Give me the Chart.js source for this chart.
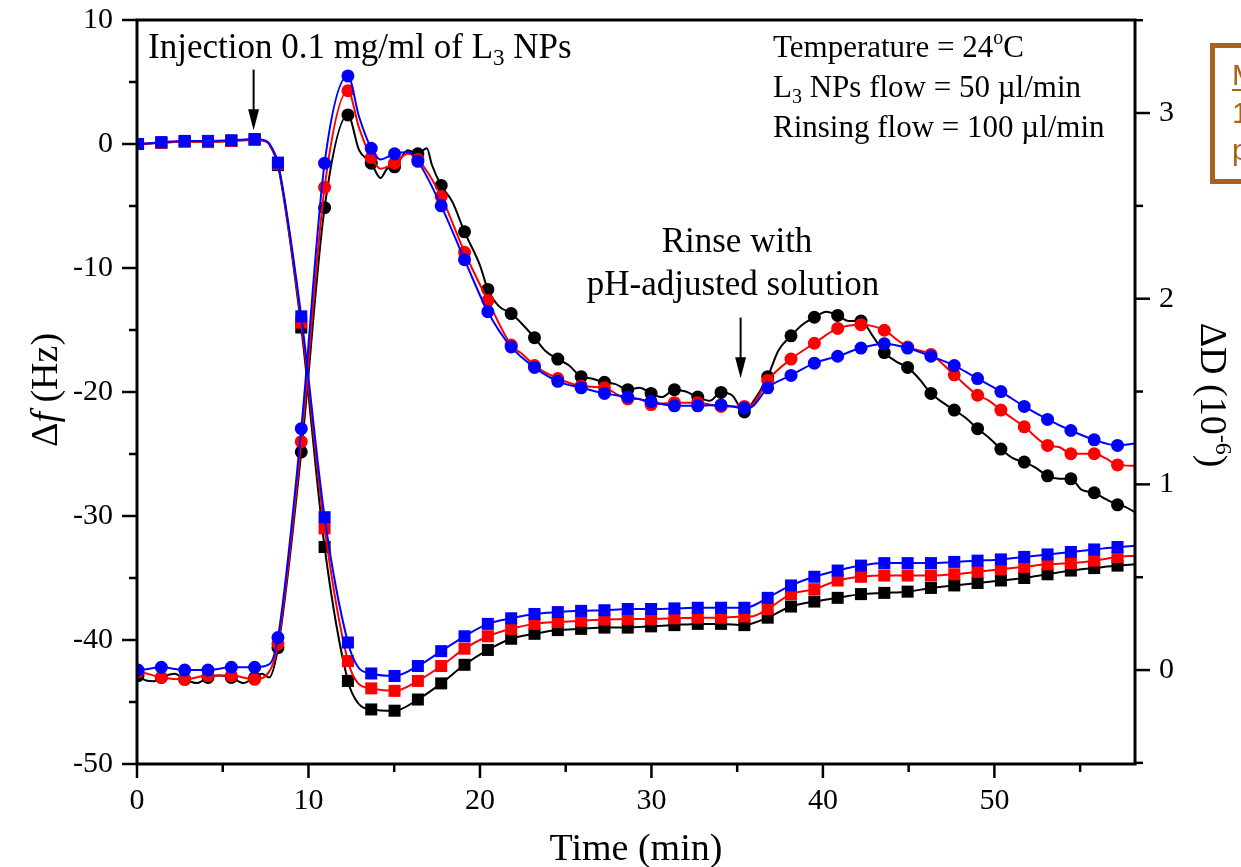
<!DOCTYPE html>
<html>
<head>
<meta charset="utf-8">
<script src="https://cdn.jsdelivr.net/npm/chart.js@4"></script>
<style>
  html, body { margin: 0; padding: 0; background: #fff; }
  #wrap { width: 1241px; height: 867px; position: relative; }
</style>
</head>
<body>
<div id="wrap"><canvas id="qcmChart"></canvas></div>
<script>
// times (min) where the symbols sit
const markerTimes = [0.06, 1.42, 2.78, 4.14, 5.50, 6.86, 8.22, 9.58, 10.94, 12.30, 13.66, 15.02, 16.38, 17.74,
  19.10, 20.46, 21.82, 23.18, 24.54, 25.90, 27.26, 28.62, 29.98, 31.34, 32.70, 34.06, 35.42, 36.78, 38.14,
  39.50, 40.86, 42.22, 43.58, 44.94, 46.30, 47.66, 49.02, 50.38, 51.74, 53.10, 54.46, 55.82, 57.18];

// frequency shift (Hz), squares, left axis
const freqBlue = [0.0, 0.15, 0.25, 0.25, 0.3, 0.4, -1.5, -13.9, -30.1, -40.2, -42.7, -42.9, -42.1, -40.9, -39.7,
  -38.7, -38.25, -37.9, -37.75, -37.65, -37.6, -37.5, -37.5, -37.45, -37.4, -37.4, -37.4, -36.6, -35.6, -34.9,
  -34.4, -34.0, -33.8, -33.8, -33.8, -33.7, -33.6, -33.5, -33.3, -33.1, -32.9, -32.7, -32.5];
const freqRed = [0.0, 0.1, 0.2, 0.15, 0.25, 0.35, -1.6, -14.4, -31.0, -41.7, -43.9, -44.1, -43.3, -42.1, -40.7,
  -39.7, -39.1, -38.7, -38.55, -38.45, -38.35, -38.3, -38.3, -38.25, -38.2, -38.2, -38.1, -37.5, -36.3, -35.9,
  -35.2, -34.9, -34.8, -34.8, -34.8, -34.7, -34.5, -34.3, -34.1, -33.9, -33.8, -33.6, -33.3];
const freqBlack = [0.0, 0.1, 0.2, 0.2, 0.25, 0.35, -1.7, -14.8, -32.5, -43.3, -45.6, -45.7, -44.8, -43.5, -42.0,
  -40.8, -39.9, -39.5, -39.2, -39.1, -39.0, -39.0, -38.9, -38.8, -38.7, -38.7, -38.8, -38.2, -37.3, -36.9,
  -36.6, -36.3, -36.2, -36.1, -35.8, -35.6, -35.4, -35.2, -35.0, -34.7, -34.4, -34.2, -34.0];

// dissipation shift (1e-6), circles, right axis
const dissBlue = [0.0, 0.015, 0.0, 0.0, 0.015, 0.015, 0.175, 1.30, 2.73, 3.20, 2.81, 2.78, 2.74, 2.50, 2.21,
  1.93, 1.74, 1.63, 1.555, 1.52, 1.49, 1.47, 1.446, 1.423, 1.423, 1.428, 1.41, 1.52, 1.587, 1.653, 1.69,
  1.734, 1.757, 1.734, 1.69, 1.64, 1.57, 1.50, 1.42, 1.35, 1.29, 1.24, 1.21];
const dissRed = [-0.01, -0.04, -0.05, -0.03, -0.03, -0.05, 0.14, 1.23, 2.60, 3.12, 2.76, 2.73, 2.75, 2.55, 2.25,
  1.99, 1.75, 1.64, 1.57, 1.53, 1.52, 1.46, 1.43, 1.44, 1.44, 1.42, 1.42, 1.56, 1.675, 1.76, 1.84,
  1.86, 1.83, 1.74, 1.70, 1.59, 1.48, 1.40, 1.31, 1.21, 1.165, 1.165, 1.105];
const dissBlack = [-0.03, -0.04, -0.05, -0.04, -0.04, -0.04, 0.12, 1.175, 2.49, 2.99, 2.73, 2.71, 2.78, 2.61, 2.36,
  2.05, 1.92, 1.79, 1.675, 1.58, 1.55, 1.51, 1.49, 1.51, 1.47, 1.495, 1.39, 1.58, 1.80, 1.90, 1.91,
  1.88, 1.71, 1.63, 1.49, 1.40, 1.30, 1.19, 1.12, 1.046, 1.03, 0.955, 0.89];

// extra line-only points [t, value] read between the symbols
const freqBlueLine = [[0, 0.0], [7.6, 0.2], [7.9, -0.4], [12.9, -42.2], [35.8, -37.3], [58.2, -32.4]];
const freqRedLine = [[0, 0.0], [7.6, 0.15], [7.9, -0.5], [12.9, -43.5], [35.8, -38.1], [58.2, -33.2]];
const freqBlackLine = [[0, 0.0], [7.6, 0.15], [7.9, -0.5], [12.9, -45.1], [35.8, -38.7], [58.2, -33.9]];
const dissBlueLine = [[0, 0.0], [7.7, 0.03], [12.95, 2.98], [14.2, 2.75], [15.8, 2.79], [35.9, 1.42], [58.2, 1.22]];
const dissRedLine = [[0, -0.02], [7.7, -0.01], [12.95, 2.92], [14.2, 2.70], [15.8, 2.78], [22.5, 1.70],
  [29.3, 1.46], [35.9, 1.43], [44.3, 1.78], [49.7, 1.45], [53.8, 1.20], [56.5, 1.14], [58.2, 1.10]];
const dissBlackLine = [[0, -0.02], [1.0, -0.06], [2.2, -0.02], [3.5, -0.07], [4.8, -0.03], [6.2, -0.07],
  [7.3, -0.02], [7.7, -0.04], [12.95, 2.80], [14.2, 2.65], [14.6, 2.70], [15.8, 2.80], [16.9, 2.81],
  [17.2, 2.72], [18.4, 2.52], [20.0, 2.18], [21.1, 1.96], [22.5, 1.86], [23.8, 1.72], [25.2, 1.64],
  [26.5, 1.57], [27.9, 1.54], [29.3, 1.52], [30.6, 1.47], [32.0, 1.50], [33.4, 1.45], [34.7, 1.48],
  [35.9, 1.44], [37.4, 1.72], [38.8, 1.86], [40.2, 1.93], [41.5, 1.88], [42.9, 1.80], [44.3, 1.66],
  [45.6, 1.57], [47.0, 1.44], [48.3, 1.36], [49.7, 1.25], [51.1, 1.14], [52.4, 1.09], [53.8, 1.03],
  [55.1, 0.97], [56.5, 0.92], [57.6, 0.88], [58.2, 0.85]];

// axis ticks
const xTicks = [0, 10, 20, 30, 40, 50];
const xMinor = [5, 15, 25, 35, 45, 55];
const freqTicks = [10, 0, -10, -20, -30, -40, -50];
const freqMinor = [5, -5, -15, -25, -35, -45];
const dissTicks = [0, 1, 2, 3];
const dissMinor = [-0.5, 0.5, 1.5, 2.5, 3.5];

const SERIF = '"Liberation Serif", "Times New Roman", serif';
const SANS = '"Liberation Sans", Arial, sans-serif';
const BROWN = '#a5651c';

function toPoints(values) {
    return markerTimes.map((t, i) => ({ x: t, y: values[i] }));
}
function linePoints(values, extra) {
    return toPoints(values).concat(extra.map(p => ({ x: p[0], y: p[1] }))).sort((a, b) => a.x - b.x);
}
function lineSet(values, extra, color, axis, order) {
    return {
        data: linePoints(values, extra), showLine: true, borderColor: color, borderWidth: 2,
        pointRadius: 0, pointHoverRadius: 0, cubicInterpolationMode: 'monotone', yAxisID: axis, order: order,
    };
}
function markSet(values, color, axis, style, order) {
    return {
        data: toPoints(values), showLine: false, backgroundColor: color, borderColor: color, borderWidth: 0,
        pointStyle: style, pointRadius: style === 'rect' ? 8.5 : 6.5, pointHoverRadius: 6, yAxisID: axis, order: order,
    };
}

// draw a run of text pieces with their own sizes / offsets
function richText(ctx, parts, x, y, align) {
    const fontOf = p => (p.italic ? 'italic ' : '') + p.size + 'px ' + (p.family || SERIF);
    let w = 0;
    parts.forEach(p => { ctx.font = fontOf(p); w += ctx.measureText(p.t).width; });
    let cx = align === 'center' ? x - w / 2 : x;
    ctx.textAlign = 'left';
    ctx.textBaseline = 'alphabetic';
    parts.forEach(p => {
        ctx.font = fontOf(p);
        ctx.fillText(p.t, cx, y + (p.dy || 0));
        cx += ctx.measureText(p.t).width;
    });
}

function arrowDown(ctx, x, y1, y2) {
    ctx.beginPath();
    ctx.moveTo(x, y1);
    ctx.lineTo(x, y2 - 18);
    ctx.lineWidth = 2;
    ctx.stroke();
    ctx.beginPath();
    ctx.moveTo(x - 5.5, y2 - 21);
    ctx.lineTo(x + 5.5, y2 - 21);
    ctx.lineTo(x, y2);
    ctx.closePath();
    ctx.fill();
}

const decor = {
    id: 'decor',
    afterDatasetsDraw(chart) {
        const { ctx, chartArea: a, scales } = chart;
        ctx.save();
        ctx.strokeStyle = '#000';
        ctx.fillStyle = '#000';

        // frame
        ctx.lineWidth = 3;
        ctx.strokeRect(a.left, a.top, a.right - a.left, a.bottom - a.top);

        // tick marks, outside
        ctx.lineWidth = 2.5;
        const tick = (x1, y1, x2, y2) => { ctx.beginPath(); ctx.moveTo(x1, y1); ctx.lineTo(x2, y2); ctx.stroke(); };
        xTicks.forEach(v => { const x = scales.x.getPixelForValue(v); tick(x, a.bottom, x, a.bottom + 14); });
        xMinor.forEach(v => { const x = scales.x.getPixelForValue(v); tick(x, a.bottom, x, a.bottom + 8); });
        freqTicks.forEach(v => { const y = scales.yF.getPixelForValue(v); tick(a.left - 15, y, a.left, y); });
        freqMinor.forEach(v => { const y = scales.yF.getPixelForValue(v); tick(a.left - 8, y, a.left, y); });
        dissTicks.forEach(v => { const y = scales.yD.getPixelForValue(v); tick(a.right, y, a.right + 15, y); });
        dissMinor.forEach(v => { const y = scales.yD.getPixelForValue(v); tick(a.right, y, a.right + 8, y); });

        // annotations
        richText(ctx, [{ t: 'Injection 0.1 mg/ml of L', size: 35 }, { t: '3', size: 23, dy: 7 }, { t: ' NPs', size: 35 }], 148, 58);
        arrowDown(ctx, scales.x.getPixelForValue(6.8), scales.yF.getPixelForValue(6.0), scales.yF.getPixelForValue(1.1));

        richText(ctx, [{ t: 'Temperature = 24', size: 31 }, { t: 'o', size: 20, dy: -13 }, { t: 'C', size: 31 }], 773, 57);
        richText(ctx, [{ t: 'L', size: 31 }, { t: '3', size: 20, dy: 6 }, { t: ' NPs flow = 50 \u00b5l/min', size: 31 }], 773, 97);
        richText(ctx, [{ t: 'Rinsing flow = 100 \u00b5l/min', size: 31 }], 773, 137);

        richText(ctx, [{ t: 'Rinse with', size: 35 }], 737, 252, 'center');
        richText(ctx, [{ t: 'pH-adjusted solution', size: 35 }], 733, 295, 'center');
        arrowDown(ctx, scales.x.getPixelForValue(35.2), scales.yF.getPixelForValue(-14.0), scales.yF.getPixelForValue(-18.9));

        // axis titles
        richText(ctx, [{ t: 'Time (min)', size: 38 }], (a.left + a.right) / 2, 860, 'center');

        ctx.save();
        ctx.translate(57, 390);
        ctx.rotate(-Math.PI / 2);
        richText(ctx, [{ t: '\u0394', size: 38 }, { t: 'f', size: 38, italic: true }, { t: ' (Hz)', size: 38 }], 0, 0, 'center');
        ctx.restore();

        ctx.save();
        ctx.translate(1201, 395);
        ctx.rotate(Math.PI / 2);
        richText(ctx, [{ t: '\u0394D (10', size: 38 }, { t: '-6', size: 24, dy: -15 }, { t: ')', size: 38 }], 0, 0, 'center');
        ctx.restore();

        // cut-off box at the right edge
        ctx.strokeStyle = BROWN;
        ctx.fillStyle = BROWN;
        ctx.lineWidth = 5;
        ctx.strokeRect(1212.5, 45.5, 60, 136);
        richText(ctx, [{ t: 'M', size: 30, family: SANS }], 1232, 85);
        ctx.lineWidth = 2;
        ctx.beginPath(); ctx.moveTo(1232, 90); ctx.lineTo(1262, 90); ctx.stroke();
        richText(ctx, [{ t: '1', size: 30, family: SANS }], 1232, 123);
        richText(ctx, [{ t: 'p', size: 30, family: SANS }], 1232, 160);

        ctx.restore();
    },
};

const tickFont = { family: SERIF, size: 30 };
const noPad = s => { s.paddingTop = 0; s.paddingBottom = 0; s.paddingLeft = 0; s.paddingRight = 0; };

new Chart(document.getElementById('qcmChart').getContext('2d'), {
    type: 'scatter',
    data: {
        datasets: [
            markSet(dissBlue, '#0000ff', 'yD', 'circle', 0),
            lineSet(dissBlue, dissBlueLine, '#0000ff', 'yD', 1),
            markSet(freqBlue, '#0000ff', 'yF', 'rect', 0),
            lineSet(freqBlue, freqBlueLine, '#0000ff', 'yF', 1),
            markSet(dissRed, '#ff0000', 'yD', 'circle', 2),
            lineSet(dissRed, dissRedLine, '#ff0000', 'yD', 3),
            markSet(freqRed, '#ff0000', 'yF', 'rect', 2),
            lineSet(freqRed, freqRedLine, '#ff0000', 'yF', 3),
            markSet(dissBlack, '#000000', 'yD', 'circle', 4),
            lineSet(dissBlack, dissBlackLine, '#000000', 'yD', 5),
            markSet(freqBlack, '#000000', 'yF', 'rect', 4),
            lineSet(freqBlack, freqBlackLine, '#000000', 'yF', 5),
        ],
    },
    options: {
        responsive: true,
        maintainAspectRatio: false,
        animation: false,
        layout: { padding: { top: 20, left: 0, right: 0, bottom: 0 } },
        plugins: { legend: { display: false }, tooltip: { enabled: false } },
        scales: {
            x: {
                type: 'linear', position: 'bottom', min: 0, max: 58.2,
                grid: { display: false, drawTicks: false }, border: { display: false },
                ticks: { font: tickFont, color: '#000', padding: 19, maxRotation: 0, autoSkip: false },
                afterBuildTicks: s => { s.ticks = xTicks.map(v => ({ value: v })); },
                afterFit: s => { s.height = 103; noPad(s); },
            },
            yF: {
                type: 'linear', position: 'left', min: -50, max: 10,
                grid: { display: false, drawTicks: false }, border: { display: false },
                ticks: { font: tickFont, color: '#000', padding: 24, autoSkip: false },
                afterBuildTicks: s => { s.ticks = freqTicks.map(v => ({ value: v })); },
                afterFit: s => { s.width = 137; noPad(s); },
            },
            yD: {
                type: 'linear', position: 'right', min: -0.506, max: 3.501,
                grid: { display: false, drawTicks: false }, border: { display: false },
                ticks: { font: tickFont, color: '#000', padding: 24, autoSkip: false },
                afterBuildTicks: s => { s.ticks = dissTicks.map(v => ({ value: v })); },
                afterFit: s => { s.width = 106; noPad(s); },
            },
        },
    },
    plugins: [decor],
});
</script>
</body>
</html>
